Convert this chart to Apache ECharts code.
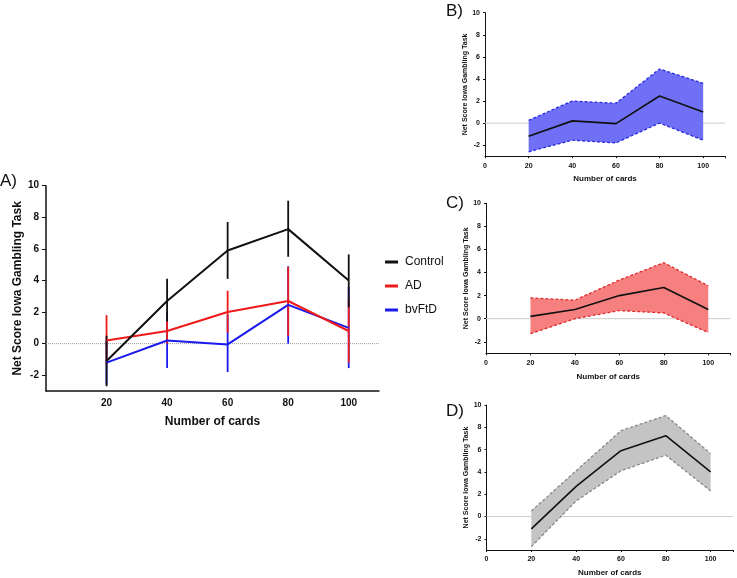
<!DOCTYPE html>
<html><head><meta charset="utf-8">
<script src="https://cdn.jsdelivr.net/npm/echarts@6/dist/echarts.min.js"></script>
<style>html,body{margin:0;padding:0;background:#fff}#c{width:737px;height:578px}</style>
</head><body><div id="c"></div>
<script>
const cards = [20, 40, 60, 80, 100];
const yTicks = [-2, 0, 2, 4, 6, 8, 10];
const controlMean = [-1.1, 2.7, 5.9, 7.25, 4.0];
const controlLow  = [-2.7, 1.4, 4.1, 5.5, 2.3];
const controlHigh = [0.5, 4.1, 7.7, 9.05, 5.65];
const adMean = [0.2, 0.8, 2.0, 2.7, 0.8];
const adLow  = [-1.3, 0.0, 0.7, 0.5, -1.2];
const adHigh = [1.8, 1.6, 3.35, 4.85, 2.85];
const ftdMean = [-1.2, 0.2, -0.05, 2.45, 1.0];
const ftdLow  = [-2.6, -1.55, -1.8, 0.0, -1.55];
const ftdHigh = [0.25, 2.0, 1.8, 4.9, 3.6];

const FONT = 'Liberation Sans, Arial, sans-serif';
const chart = echarts.init(document.getElementById('c'), null, {renderer: 'canvas'});

const grids = [
  {left: 46, top: 185.7, width: 333, height: 205.3},
  {left: 485, top: 12.7, width: 240, height: 143.5},
  {left: 486, top: 203.3, width: 244.5, height: 150},
  {left: 486.5, top: 405, width: 246.5, height: 148}
];

function xAxis(i, big) {
  return {
    type: 'value', gridIndex: i, min: 0, max: 110, interval: 20,
    name: 'Number of cards', nameLocation: 'middle', nameGap: big ? 25 : 19,
    nameTextStyle: {fontFamily: FONT, fontWeight: 'bold', fontSize: big ? 12 : 8, color: '#111'},
    axisLine: {show: true, onZero: false, lineStyle: {color: '#111', width: big ? 1.5 : 1}},
    axisTick: {show: !big, length: 2, lineStyle: {color: '#111'}},
    axisLabel: {fontFamily: FONT, fontWeight: 'bold', fontSize: big ? 10 : 7, color: '#111', margin: big ? 7 : 6,
      formatter: v => (big && v === 0) ? '' : (v > 100 ? '' : String(v))},
    splitLine: {show: false}
  };
}
function yAxis(i, big) {
  return {
    type: 'value', gridIndex: i, min: -3, max: 10, interval: 1,
    name: 'Net Score Iowa Gambling Task', nameLocation: 'middle', nameGap: big ? 21 : 15,
    nameTextStyle: {fontFamily: FONT, fontWeight: 'bold', fontSize: big ? 12 : 7, color: '#111'},
    axisLine: {show: true, lineStyle: {color: '#111', width: big ? 1.5 : 1}},
    axisTick: {show: true, length: big ? 4 : 2, lineStyle: {color: '#111'}, customValues: yTicks},
    axisLabel: {fontFamily: FONT, fontWeight: 'bold', fontSize: big ? 10 : 7, color: '#111', margin: big ? 7 : 5,
      customValues: yTicks},
    splitLine: {show: false}
  };
}

function pairs(ys) { return cards.map((c, i) => [c, ys[i]]); }

function zeroLine(i, dotted) {
  return {type: 'line', xAxisIndex: i, yAxisIndex: i, data: [[0, 0], [110, 0]], symbol: 'none', silent: true,
    lineStyle: {color: dotted ? '#999' : '#ccc', width: 1, type: dotted ? 'dotted' : 'solid'}, z: 1};
}

function errorBars(i, lo, hi, color, z) {
  return {
    type: 'custom', xAxisIndex: i, yAxisIndex: i, z: z,
    data: cards.map((c, k) => [c, lo[k], hi[k]]),
    encode: {x: 0, y: [1, 2]},
    renderItem: (params, api) => {
      const a = api.coord([api.value(0), api.value(1)]);
      const b = api.coord([api.value(0), api.value(2)]);
      return {type: 'line', shape: {x1: a[0], y1: a[1], x2: b[0], y2: b[1]},
        style: {stroke: color, lineWidth: 1.8}};
    }
  };
}

function band(i, lo, hi, fill) {
  return {
    type: 'custom', xAxisIndex: i, yAxisIndex: i, z: 2,
    data: cards.map((c, k) => [c, lo[k], hi[k]]),
    encode: {x: 0, y: [1, 2]},
    renderItem: (params, api) => {
      if (params.dataIndex !== 0) return;
      const pts = [];
      for (let k = 0; k < cards.length; k++) pts.push(api.coord([cards[k], hi[k]]));
      for (let k = cards.length - 1; k >= 0; k--) pts.push(api.coord([cards[k], lo[k]]));
      return {type: 'polygon', shape: {points: pts}, style: {fill: fill, stroke: null}};
    }
  };
}
function dashed(i, ys, color) {
  return {type: 'line', xAxisIndex: i, yAxisIndex: i, data: pairs(ys), symbol: 'none', z: 3,
    lineStyle: {color: color, width: 1.3, type: [3, 2]}};
}
function meanLine(i, ys, color, w, name, z) {
  return {type: 'line', name: name, xAxisIndex: i, yAxisIndex: i, data: pairs(ys), symbol: 'none', z: z || 4,
    lineStyle: {color: color, width: w}, itemStyle: {color: color}};
}

const option = {
  backgroundColor: '#fff',
  animation: false,
  grid: grids,
  xAxis: [xAxis(0, true), xAxis(1, false), xAxis(2, false), xAxis(3, false)],
  yAxis: [yAxis(0, true), yAxis(1, false), yAxis(2, false), yAxis(3, false)],
  legend: {
    data: ['Control', 'AD', 'bvFtD'], orient: 'vertical', left: 380, top: 251, itemGap: 12,
    itemWidth: 13, itemHeight: 3, icon: 'rect',
    textStyle: {fontFamily: FONT, fontSize: 12, color: '#111', padding: [0, 0, 0, 2]}
  },
  graphic: [
    {type: 'text', left: 0, top: 173, style: {text: 'A)', font: '17px ' + FONT, fill: '#111'}},
    {type: 'text', left: 446, top: 3, style: {text: 'B)', font: '17px ' + FONT, fill: '#111'}},
    {type: 'text', left: 446, top: 195, style: {text: 'C)', font: '17px ' + FONT, fill: '#111'}},
    {type: 'text', left: 446, top: 403, style: {text: 'D)', font: '17px ' + FONT, fill: '#111'}}
  ],
  series: [
    zeroLine(0, true),
    errorBars(0, ftdLow, ftdHigh, '#1a1aee', 5),
    errorBars(0, adLow, adHigh, '#ee1a1a', 6),
    errorBars(0, controlLow, controlHigh, '#111', 7),
    meanLine(0, ftdMean, '#1a1aee', 2, 'bvFtD', 8),
    meanLine(0, adMean, '#ee1a1a', 2, 'AD', 9),
    meanLine(0, controlMean, '#111', 2, 'Control', 10),

    zeroLine(1, false),
    band(1, ftdLow, ftdHigh, 'rgba(112,112,246,1)'),
    dashed(1, ftdHigh, '#2a2ae0'), dashed(1, ftdLow, '#2a2ae0'),
    meanLine(1, ftdMean, '#111', 1.6),

    zeroLine(2, false),
    band(2, adLow, adHigh, 'rgba(246,128,128,1)'),
    dashed(2, adHigh, '#e02a2a'), dashed(2, adLow, '#e02a2a'),
    meanLine(2, adMean, '#111', 1.6),

    zeroLine(3, false),
    band(3, controlLow, controlHigh, 'rgba(196,196,196,1)'),
    dashed(3, controlHigh, '#888'), dashed(3, controlLow, '#888'),
    meanLine(3, controlMean, '#111', 1.6)
  ]
};
chart.setOption(option);
</script></body></html>
